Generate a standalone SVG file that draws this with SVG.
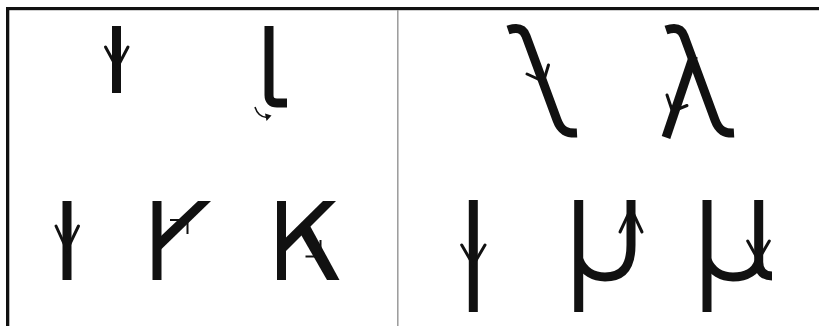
<svg xmlns="http://www.w3.org/2000/svg" width="819" height="326" viewBox="0 0 819 326">
<style>
.s{fill:none;stroke:#111;stroke-width:9;stroke-linecap:butt;stroke-linejoin:round}
.f{fill:#111;stroke:none}
.a{fill:none;stroke:#111;stroke-width:3;stroke-linecap:round;stroke-linejoin:miter}
.t{fill:none;stroke:#111;stroke-width:2;stroke-linecap:butt}
</style>
<rect width="819" height="326" fill="#fff"/>
<g id="frame">
<rect x="6" y="7" width="813" height="3.2" fill="#111"/>
<rect x="6" y="7" width="3.3" height="319" fill="#111"/>
<line x1="397.8" y1="10" x2="397.8" y2="326" stroke="#9a9a9a" stroke-width="1.5"/>
</g>
<g id="stroke-down">
<line class="s" x1="116.5" y1="26" x2="116.5" y2="93"/>
<polyline class="a" points="105.5,47 117,68 128,47"/>
</g>
<g id="stroke-hook">
<path class="s" d="M269 26 V95 Q269 103 277 103 H287"/>
<path d="M255 107 Q258 117 267 117.5" fill="none" stroke="#111" stroke-width="1.5"/>
<polygon class="f" points="265,113.5 271.5,115.5 266.5,121"/>
</g>
<g id="row2-vertical">
<line class="s" x1="67" y1="201" x2="67" y2="280"/>
<polyline class="a" points="56,226 67,250 78.5,226"/>
</g>
<g id="row2-diagonal">
<line class="s" x1="157" y1="201" x2="157" y2="280"/>
<polygon class="f" points="161,236 198,201 211,201 161,249.5"/>
<polyline class="t" points="170,220 187.5,220 187.5,234"/>
</g>
<g id="row2-k">
<line class="s" x1="281.5" y1="201" x2="281.5" y2="280"/>
<polygon class="f" points="286,237.5 323,201 336,201 286,251"/>
<polygon class="f" points="300,233 309,224 339.5,280 327,280"/>
<polyline class="t" points="305.5,256.5 322.5,256.5"/>
<polyline class="t" points="320.5,240 320.5,256.5"/>
</g>
<g id="lambda-stroke">
<path class="s" d="M508 30 C517 27 523 28 526 36 L557 120 C561 131 567 133.5 577 133"/>
<polyline class="a" points="527,74 543.5,81.5 548.5,65"/>
</g>
<g id="lambda-full">
<path class="s" d="M666 30 C675 27 681 28 684 36 L715 120 C719 131 725 133.5 734 133"/>
<line class="s" x1="666" y1="137.5" x2="693.5" y2="56"/>
<polyline class="a" points="667,95 672.5,111.5 687,105.5"/>
</g>
<g id="row2-vertical-right">
<line class="s" x1="473.3" y1="200" x2="473.3" y2="312"/>
<polyline class="a" points="461.7,245 473.3,265 485,245"/>
</g>
<g id="mu-stroke">
<line class="s" x1="578.7" y1="200" x2="578.7" y2="312"/>
<path class="s" d="M579 260 C584 272 594 277 605 277 C623 277 631 266 631 245 V200"/>
<polyline class="a" points="620,232 631,208.5 642,232"/>
</g>
<g id="mu-full">
<line class="s" x1="707" y1="200" x2="707" y2="312"/>
<path class="s" d="M707 260 C712 272 722 277 733 277 C748 277 756 270 758.7 262"/>
<path class="s" d="M758.7 200 V262 C758.7 272 764 276 772 276"/>
<polyline class="a" points="747.7,241 758.3,260 769.3,241"/>
</g>
</svg>
